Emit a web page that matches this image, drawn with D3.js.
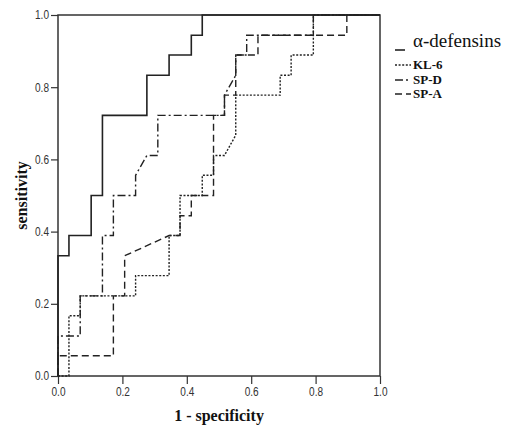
<!DOCTYPE html>
<html>
<head>
<meta charset="utf-8">
<script src="https://cdn.jsdelivr.net/npm/d3@7"></script>
<style>
  body { margin: 0; background: #fff; }
  .tick text { font-family: "Liberation Sans Narrow", "Liberation Sans", sans-serif; font-size: 12px; fill: #333; }
  .tick line { stroke: #333; stroke-width: 1.2; }
  .axisTitle { font-family: "Liberation Serif", "Times New Roman", serif; font-weight: bold; font-size: 16px; fill: #111; }
  .legText { font-family: "Liberation Serif", "Times New Roman", serif; fill: #111; }
</style>
</head>
<body>
<script>
// ROC points (1 - specificity, sensitivity)
var defX = [0, 0, 0.034, 0.034, 0.103, 0.103, 0.138, 0.138, 0.276, 0.276, 0.345, 0.345, 0.414, 0.414, 0.448, 0.448, 1];
var defY = [0, 0.333, 0.333, 0.389, 0.389, 0.5, 0.5, 0.722, 0.722, 0.833, 0.833, 0.889, 0.889, 0.944, 0.944, 1, 1];

var kl6X = [0, 0.034, 0.034, 0.069, 0.069, 0.241, 0.241, 0.345, 0.345, 0.379, 0.379, 0.448, 0.448, 0.483, 0.483, 0.517, 0.552, 0.552, 0.690, 0.690, 0.724, 0.724, 0.793, 0.793, 1];
var kl6Y = [0, 0, 0.167, 0.167, 0.222, 0.222, 0.278, 0.278, 0.389, 0.389, 0.5, 0.5, 0.556, 0.556, 0.611, 0.611, 0.667, 0.778, 0.778, 0.833, 0.833, 0.889, 0.889, 1, 1];

var spdX = [0, 0, 0.069, 0.069, 0.138, 0.138, 0.172, 0.172, 0.241, 0.241, 0.276, 0.310, 0.310, 0.517, 0.517, 0.552, 0.552, 0.586, 0.586, 0.793, 0.793, 1];
var spdY = [0, 0.111, 0.111, 0.222, 0.222, 0.389, 0.389, 0.5, 0.5, 0.556, 0.611, 0.611, 0.722, 0.722, 0.778, 0.833, 0.889, 0.889, 0.944, 0.944, 1, 1];

var spaX = [0, 0, 0.172, 0.172, 0.207, 0.207, 0.345, 0.379, 0.379, 0.414, 0.414, 0.483, 0.483, 0.517, 0.517, 0.552, 0.552, 0.621, 0.621, 0.897, 0.897, 1];
var spaY = [0, 0.056, 0.056, 0.222, 0.222, 0.333, 0.389, 0.389, 0.444, 0.444, 0.5, 0.5, 0.722, 0.722, 0.778, 0.778, 0.889, 0.889, 0.944, 0.944, 1, 1];

var tickVals = [0, 0.2, 0.4, 0.6, 0.8, 1.0];
var seriesNames = ["α-defensins", "KL-6", "SP-D", "SP-A"];

window.onload = function(){
    var w = 517, h = 427;
    var left = 58, right = 380, top = 15, bottom = 376;
    var squeeze = 0.84;   // narrow look for tick labels

    var svg = d3.select("body").append("svg")
        .attr("width", w)
        .attr("height", h);

    var x = d3.scaleLinear().domain([0, 1]).range([left, right]);
    var y = d3.scaleLinear().domain([0, 1]).range([bottom, top]);

//axes with outward ticks
    var xAxis = d3.axisBottom(x).tickValues(tickVals).tickSize(8).tickSizeOuter(0)
        .tickPadding(3).tickFormat(d3.format(".1f"));
    var yAxis = d3.axisLeft(y).tickValues(tickVals).tickSize(7).tickSizeOuter(0)
        .tickPadding(2).tickFormat(d3.format(".1f"));

    var gx = svg.append("g").attr("transform", "translate(0," + bottom + ")").call(xAxis);
    gx.select(".domain").remove();
    gx.selectAll(".tick text").attr("transform", "scale(" + squeeze + ",1)");

    var gy = svg.append("g").attr("transform", "translate(" + left + ",0)").call(yAxis);
    gy.select(".domain").remove();
    gy.selectAll(".tick text")
        .attr("x", -9 / squeeze)
        .attr("transform", "scale(" + squeeze + ",1)");

//plot frame
    svg.append("rect")
        .attr("x", left).attr("y", top)
        .attr("width", right - left).attr("height", bottom - top)
        .style("fill", "none")
        .style("stroke", "#333")
        .style("stroke-width", 1.5);

//curves
    var series = [
        {name: seriesNames[0], xs: defX, ys: defY, dash: null, width: 1.6},
        {name: seriesNames[1], xs: kl6X, ys: kl6Y, dash: "2,1.6", width: 1.4},
        {name: seriesNames[2], xs: spdX, ys: spdY, dash: "8,3,2,3", width: 1.4},
        {name: seriesNames[3], xs: spaX, ys: spaY, dash: "7,4", width: 1.4}
    ];

    var line = d3.line()
        .x(function(d){ return x(d[0]); })
        .y(function(d){ return y(d[1]); });

    svg.selectAll(".roc")
        .data(series)
        .enter()
        .append("path")
        .attr("class", "roc")
        .attr("d", function(s){
            return line(s.xs.map(function(v, i){ return [v, s.ys[i]]; }));
        })
        .style("fill", "none")
        .style("stroke", "#222")
        .style("stroke-width", function(s){ return s.width; })
        .style("stroke-dasharray", function(s){ return s.dash; });

//axis titles
    svg.append("text")
        .attr("class", "axisTitle")
        .attr("text-anchor", "middle")
        .attr("x", (left + right) / 2)
        .attr("y", 421)
        .text("1 - specificity");

    svg.append("text")
        .attr("class", "axisTitle")
        .attr("text-anchor", "middle")
        .attr("transform", "translate(27," + ((top + bottom) / 2) + ") rotate(-90)")
        .text("sensitivity");

//legend
    var legY = [50, 65, 80, 94];
    var leg = svg.selectAll(".leg")
        .data(series)
        .enter()
        .append("g")
        .attr("class", "leg")
        .attr("transform", function(d, i){ return "translate(395," + legY[i] + ")"; });

    leg.append("line")
        .attr("x1", 0)
        .attr("x2", function(d, i){ return i === 0 ? 10 : 16; })
        .attr("y1", 0).attr("y2", 0)
        .style("stroke", "#222")
        .style("stroke-width", function(d){ return d.width; })
        .style("stroke-dasharray", function(d){ return d.dash; });

    leg.append("text")
        .attr("class", "legText")
        .attr("x", 18)
        .attr("y", function(d, i){ return i === 0 ? -3 : 4; })
        .style("font-size", function(d, i){ return i === 0 ? "19px" : "13px"; })
        .style("font-weight", function(d, i){ return i === 0 ? "normal" : "bold"; })
        .text(function(d){ return d.name; });
};
</script>
</body>
</html>
